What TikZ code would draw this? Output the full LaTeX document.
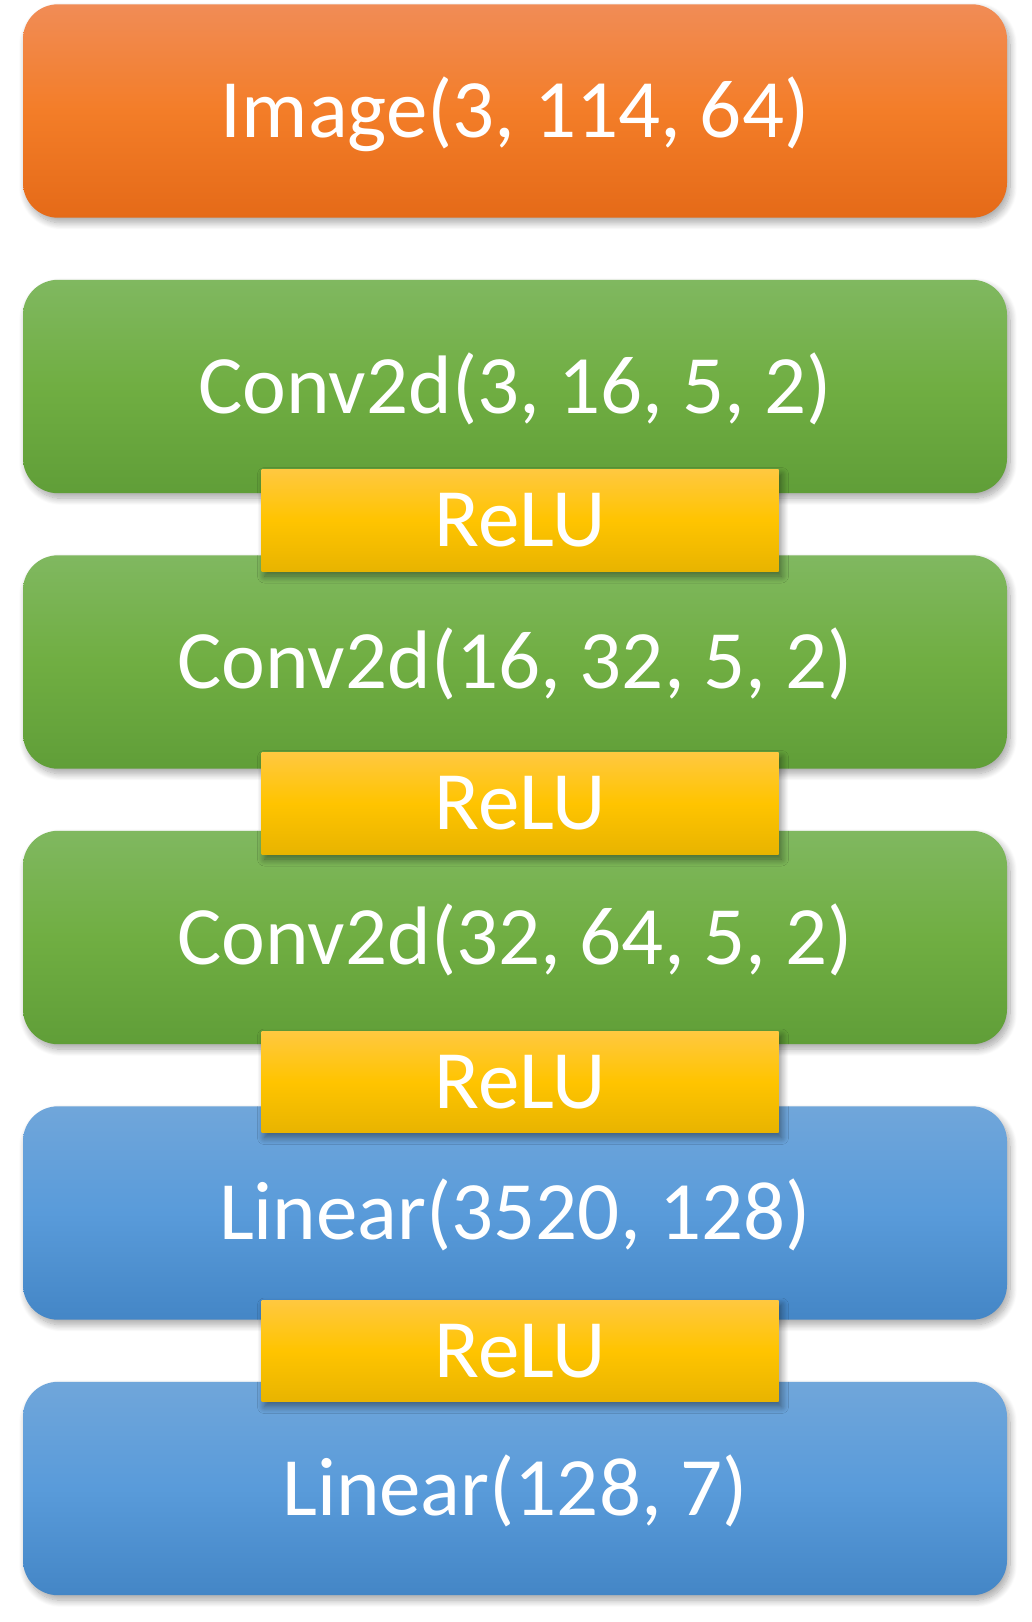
\documentclass[tikz,border=0pt]{standalone}
\usepackage{fontspec}
\setmainfont{Carlito}
\usetikzlibrary{positioning,calc,shadows.blur}
\definecolor{ImgTop}{RGB}{241,140,86}
\definecolor{ImgMid}{RGB}{243,125,40}
\definecolor{ImgBot}{RGB}{229,106,24}
\definecolor{ConvTop}{RGB}{128,184,96}
\definecolor{ConvMid}{RGB}{112,174,66}
\definecolor{ConvBot}{RGB}{96,158,56}
\definecolor{LinTop}{RGB}{112,166,218}
\definecolor{LinMid}{RGB}{89,155,218}
\definecolor{LinBot}{RGB}{68,134,198}
\definecolor{ActTop}{RGB}{255,200,64}
\definecolor{ActMid}{RGB}{255,196,0}
\definecolor{ActBot}{RGB}{232,180,0}

\begin{document}
\begin{tikzpicture}[
    node distance=61.7pt,
    layer/.style={rectangle, rounded corners=35pt, minimum width=984pt,
                  minimum height=213.4pt, text=white, inner sep=0pt,
                  text height=53pt, text depth=0pt,
                  font=\fontsize{83}{90}\selectfont,
                  blur shadow={shadow xshift=3pt, shadow yshift=-5pt,
                               shadow blur radius=7pt, shadow blur steps=12,
                               shadow opacity=35}},
    imgbox/.style={layer, top color=ImgTop, bottom color=ImgBot, middle color=ImgMid},
    convbox/.style={layer, top color=ConvTop, bottom color=ConvBot, middle color=ConvMid},
    linbox/.style={layer, top color=LinTop, bottom color=LinBot, middle color=LinMid},
    act/.style={rectangle, minimum width=517pt, minimum height=101.5pt, text=white,
                inner sep=0pt, text height=53pt, text depth=0pt,
                font=\fontsize{83}{90}\selectfont,
                top color=ActTop, bottom color=ActBot, middle color=ActMid,
                blur shadow={shadow xshift=3pt, shadow yshift=-5pt,
                             shadow blur radius=7pt, shadow blur steps=12,
                             shadow opacity=45}}
]
\useasboundingbox (0pt,0pt) rectangle (1031pt,-1622pt);

\node[imgbox] (img) at (515pt,-111pt) {Image(3, 114, 64)};
\node[convbox, below=of img] (conv1) {Conv2d(3, 16, 5, 2)};
\node[convbox, below=of conv1] (conv2) {Conv2d(16, 32, 5, 2)};
\node[convbox, below=of conv2] (conv3) {Conv2d(32, 64, 5, 2)};
\node[linbox, below=of conv3] (fc1) {Linear(3520, 128)};
\node[linbox, below=of fc1] (fc2) {Linear(128, 7)};

% activations sit over the gaps
\node[act] (relu1) at ($(conv1.south)!0.5!(conv2.north)+(5pt,4pt)$) {ReLU};
\node[act] (relu2) at ($(conv2.south)!0.5!(conv3.north)+(5pt,-3.5pt)$) {ReLU};
\node[act] (relu3) at ($(conv3.south)!0.5!(fc1.north)+(5pt,-6.5pt)$) {ReLU};
\node[act] (relu4) at ($(fc1.south)!0.5!(fc2.north)+(5pt,0pt)$) {ReLU};

\end{tikzpicture}
\end{document}
